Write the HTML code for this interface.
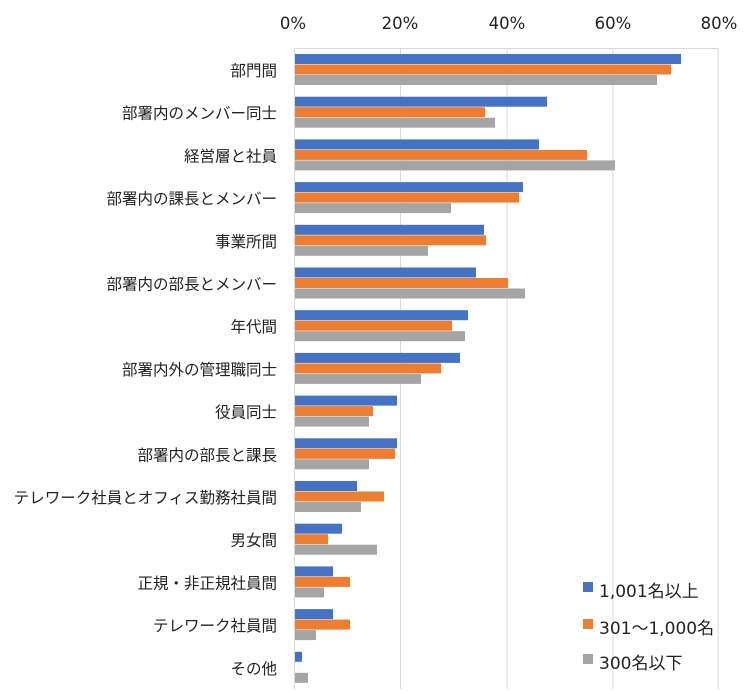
<!DOCTYPE html>
<html><head><meta charset="utf-8"><style>
body{margin:0;background:#fff}
text{font-family:"DejaVu Sans","Noto Sans CJK JP",sans-serif;fill:#222}
</style></head><body>
<svg width="750" height="689" xmlns="http://www.w3.org/2000/svg">
<g stroke="#d9d9d9" stroke-width="1">
<line x1="400.5" y1="48" x2="400.5" y2="689"/>
<line x1="507" y1="48" x2="507" y2="689"/>
<line x1="613" y1="48" x2="613" y2="689"/>
<line x1="718" y1="48" x2="718" y2="689"/>
<line x1="294" y1="48.5" x2="718" y2="48.5"/>
<line x1="294.5" y1="48" x2="294.5" y2="689"/>
</g>
<g font-size="16.5" text-anchor="middle">
<text x="293" y="29">0%</text><text x="400" y="29">20%</text><text x="507" y="29">40%</text><text x="613" y="29">60%</text><text x="719" y="29">80%</text>
</g>
<g>
<rect x="295" y="54" width="386" height="10" fill="#4472c4"/><rect x="295" y="64.5" width="376" height="10" fill="#ed7d31"/><rect x="295" y="75" width="362" height="10" fill="#a5a5a5"/>
<rect x="295" y="96.7" width="252" height="10" fill="#4472c4"/><rect x="295" y="107.2" width="190" height="10" fill="#ed7d31"/><rect x="295" y="117.7" width="200" height="10" fill="#a5a5a5"/>
<rect x="295" y="139.4" width="244" height="10" fill="#4472c4"/><rect x="295" y="149.9" width="292" height="10" fill="#ed7d31"/><rect x="295" y="160.4" width="320" height="10" fill="#a5a5a5"/>
<rect x="295" y="182.1" width="228" height="10" fill="#4472c4"/><rect x="295" y="192.6" width="224" height="10" fill="#ed7d31"/><rect x="295" y="203.1" width="156" height="10" fill="#a5a5a5"/>
<rect x="295" y="224.8" width="189" height="10" fill="#4472c4"/><rect x="295" y="235.3" width="191" height="10" fill="#ed7d31"/><rect x="295" y="245.8" width="133" height="10" fill="#a5a5a5"/>
<rect x="295" y="267.5" width="181" height="10" fill="#4472c4"/><rect x="295" y="278" width="213" height="10" fill="#ed7d31"/><rect x="295" y="288.5" width="230" height="10" fill="#a5a5a5"/>
<rect x="295" y="310.2" width="173" height="10" fill="#4472c4"/><rect x="295" y="320.7" width="157" height="10" fill="#ed7d31"/><rect x="295" y="331.2" width="170" height="10" fill="#a5a5a5"/>
<rect x="295" y="352.9" width="165" height="10" fill="#4472c4"/><rect x="295" y="363.4" width="146" height="10" fill="#ed7d31"/><rect x="295" y="373.9" width="126" height="10" fill="#a5a5a5"/>
<rect x="295" y="395.6" width="102" height="10" fill="#4472c4"/><rect x="295" y="406.1" width="78" height="10" fill="#ed7d31"/><rect x="295" y="416.6" width="74" height="10" fill="#a5a5a5"/>
<rect x="295" y="438.3" width="102" height="10" fill="#4472c4"/><rect x="295" y="448.8" width="100" height="10" fill="#ed7d31"/><rect x="295" y="459.3" width="74" height="10" fill="#a5a5a5"/>
<rect x="295" y="481" width="62" height="10" fill="#4472c4"/><rect x="295" y="491.5" width="89" height="10" fill="#ed7d31"/><rect x="295" y="502" width="66" height="10" fill="#a5a5a5"/>
<rect x="295" y="523.7" width="47" height="10" fill="#4472c4"/><rect x="295" y="534.2" width="33" height="10" fill="#ed7d31"/><rect x="295" y="544.7" width="82" height="10" fill="#a5a5a5"/>
<rect x="295" y="566.4" width="38" height="10" fill="#4472c4"/><rect x="295" y="576.9" width="55" height="10" fill="#ed7d31"/><rect x="295" y="587.4" width="29" height="10" fill="#a5a5a5"/>
<rect x="295" y="609.1" width="38" height="10" fill="#4472c4"/><rect x="295" y="619.6" width="55" height="10" fill="#ed7d31"/><rect x="295" y="630.1" width="21" height="10" fill="#a5a5a5"/>
<rect x="295" y="651.8" width="7" height="10" fill="#4472c4"/><rect x="295" y="672.8" width="13" height="10" fill="#a5a5a5"/>
</g>
<g font-size="15.5" text-anchor="end">
<text x="277" y="76">部門間</text>
<text x="277" y="118.7">部署内のメンバー同士</text>
<text x="277" y="161.4">経営層と社員</text>
<text x="277" y="204.1">部署内の課長とメンバー</text>
<text x="277" y="246.8">事業所間</text>
<text x="277" y="289.5">部署内の部長とメンバー</text>
<text x="277" y="332.2">年代間</text>
<text x="277" y="374.9">部署内外の管理職同士</text>
<text x="277" y="417.6">役員同士</text>
<text x="277" y="460.3">部署内の部長と課長</text>
<text x="277" y="503">テレワーク社員とオフィス勤務社員間</text>
<text x="277" y="545.7">男女間</text>
<text x="277" y="588.4">正規・非正規社員間</text>
<text x="277" y="631.1">テレワーク社員間</text>
<text x="277" y="673.8">その他</text>
</g>
<g font-size="17">
<rect x="583" y="582" width="10" height="10" fill="#4472c4"/><text x="599" y="597">1,001名以上</text>
<rect x="583" y="619" width="10" height="10" fill="#ed7d31"/><text x="599" y="634">301～1,000名</text>
<rect x="583" y="654" width="10" height="10" fill="#a5a5a5"/><text x="599" y="669">300名以下</text>
</g>
</svg>
</body></html>
